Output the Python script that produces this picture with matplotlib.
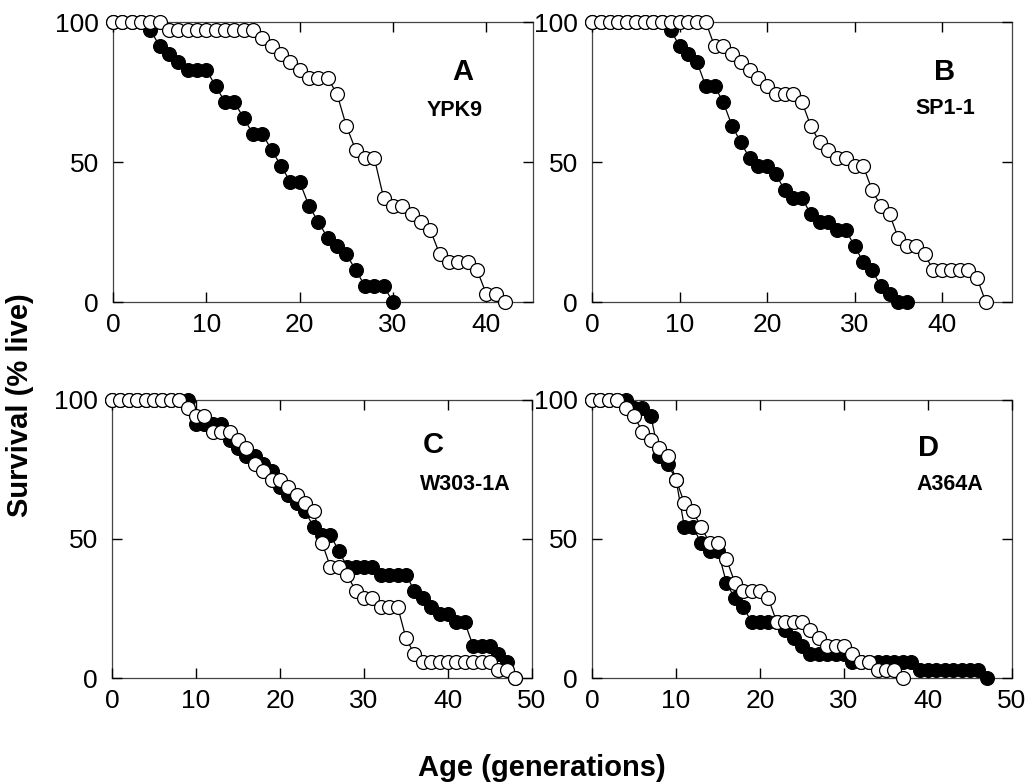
import numpy as np
import matplotlib
matplotlib.use("Agg")
import matplotlib.pyplot as plt

plt.rcParams['font.family'] = ['Liberation Sans', 'DejaVu Sans']

# ---------------- data ----------------
# Panel A (YPK9)
a_filled_x = list(range(0, 31))
a_filled_y = [100, 100, 100, 100, 97.1, 91.4, 88.6, 85.7, 82.9, 82.9, 82.9, 77.1, 71.4, 71.4,
              65.7, 60, 60, 54.3, 48.6, 42.9, 42.9, 34.3, 28.6, 22.9, 20, 17.1, 11.4, 5.7, 5.7, 5.7, 0]
a_open_x = list(range(0, 43))
a_open_y = [100, 100, 100, 100, 100, 100, 97.1, 97.1, 97.1, 97.1, 97.1, 97.1, 97.1, 97.1, 97.1, 97.1,
            94.3, 91.4, 88.6, 85.7, 82.9, 80, 80, 80, 74.3, 62.9, 54.3, 51.4, 51.4, 37.1, 34.3, 34.3,
            31.4, 28.6, 25.7, 17.1, 14.3, 14.3, 14.3, 11.4, 2.9, 2.9, 0]

# Panel B (SP1-1)
b_filled_x = list(range(0, 37))
b_filled_y = [100, 100, 100, 100, 100, 100, 100, 100, 100, 97.1, 91.4, 88.6, 85.7, 77.1, 77.1,
              71.4, 62.9, 57.1, 51.4, 48.6, 48.6, 45.7, 40, 37.1, 37.1, 31.4, 28.6, 28.6, 25.7,
              25.7, 20, 14.3, 11.4, 5.7, 2.9, 0, 0]
b_open_x = list(range(0, 46))
b_open_y = [100, 100, 100, 100, 100, 100, 100, 100, 100, 100, 100, 100, 100, 100, 91.4, 91.4,
            88.6, 85.7, 82.9, 80, 77.1, 74.3, 74.3, 74.3, 71.4, 62.9, 57.1, 54.3, 51.4, 51.4,
            48.6, 48.6, 40, 34.3, 31.4, 22.9, 20, 20, 17.1, 11.4, 11.4, 11.4, 11.4, 11.4, 8.6, 0]

# Panel C (W303-1A)
c_filled_x = list(range(0, 49))
c_filled_y = [100, 100, 100, 100, 100, 100, 100, 100, 100, 100, 91.4, 91.4, 91.4, 91.4, 85.7,
              82.9, 80, 80, 77.1, 74.3, 68.6, 65.7, 62.9, 60, 54.3, 51.4, 51.4, 45.7, 40, 40, 40,
              40, 37.1, 37.1, 37.1, 37.1, 31.4, 28.6, 25.7, 22.9, 22.9, 20, 20, 11.4, 11.4, 11.4,
              8.6, 5.7, 0]
c_open_x = list(range(0, 49))
c_open_y = [100, 100, 100, 100, 100, 100, 100, 100, 100, 97.1, 94.3, 94.3, 88.6, 88.6, 88.6,
            85.7, 82.9, 77.1, 74.3, 71.4, 71.4, 68.6, 65.7, 62.9, 60, 48.6, 40, 40, 37.1, 31.4,
            28.6, 28.6, 25.7, 25.7, 25.7, 14.3, 8.6, 5.7, 5.7, 5.7, 5.7, 5.7, 5.7, 5.7, 5.7, 5.7,
            2.9, 2.9, 0]

# Panel D (A364A)
d_filled_x = list(range(0, 48))
d_filled_y = [100, 100, 100, 100, 100, 97.1, 97.1, 94.3, 80, 77.1, 71.4, 54.3, 54.3, 48.6, 45.7,
              45.7, 34.3, 28.6, 25.7, 20, 20, 20, 20, 17.1, 14.3, 11.4, 8.6, 8.6, 8.6, 8.6, 8.6,
              5.7, 5.7, 5.7, 5.7, 5.7, 5.7, 5.7, 5.7, 2.9, 2.9, 2.9, 2.9, 2.9, 2.9, 2.9, 2.9, 0]
d_open_x = list(range(0, 38))
d_open_y = [100, 100, 100, 100, 97.1, 94.3, 88.6, 85.7, 82.9, 80, 71.4, 62.9, 60, 54.3, 48.6,
            48.6, 42.9, 34.3, 31.4, 31.4, 31.4, 28.6, 20, 20, 20, 20, 17.1, 14.3, 11.4, 11.4,
            11.4, 8.6, 5.7, 5.7, 2.9, 2.9, 2.9, 0]

panel_letters = ['A', 'B', 'C', 'D']
strain_names = ['YPK9', 'SP1-1', 'W303-1A', 'A364A']
x_limits = [45, 48, 50, 50]
x_ticks = [[0, 10, 20, 30, 40], [0, 10, 20, 30, 40], [0, 10, 20, 30, 40, 50], [0, 10, 20, 30, 40, 50]]
y_ticks = [0, 50, 100]

panels = [
    (a_filled_x, a_filled_y, a_open_x, a_open_y),
    (b_filled_x, b_filled_y, b_open_x, b_open_y),
    (c_filled_x, c_filled_y, c_open_x, c_open_y),
    (d_filled_x, d_filled_y, d_open_x, d_open_y),
]

# ---------------- figure ----------------
W, H = 1026, 783
fig = plt.figure(figsize=(W / 100, H / 100), dpi=100)

# axes rectangles in pixels: (left, top, right, bottom)
rects = [(113, 22, 533, 302), (592, 22, 1012, 302), (112, 400, 532, 678), (592, 400, 1012, 678)]
# label positions in pixels: letter (x,y), strain (x,y)
letter_pos = [(463, 72), (945, 72), (433, 445), (928, 448)]
strain_pos = [(455, 110), (945, 108), (465, 485), (950, 485)]

ms = 10
for i, (fx, fy, ox, oy) in enumerate(panels):
    l, t, r, b = rects[i]
    ax = fig.add_axes([l / W, 1 - b / H, (r - l) / W, (b - t) / H])
    ax.plot(fx, fy, '-', color='black', lw=0.9, zorder=2, clip_on=False)
    ax.plot(fx, fy, 'o', ms=ms, mfc='black', mec='black', mew=0.8, zorder=3, clip_on=False)
    ax.plot(ox, oy, '-', color='black', lw=0.9, zorder=4, clip_on=False)
    ax.plot(ox, oy, 'o', ms=ms, mfc='white', mec='black', mew=0.9, zorder=5, clip_on=False)
    ax.set_xlim(0, x_limits[i])
    ax.set_ylim(0, 100)
    ax.set_xticks(x_ticks[i])
    ax.set_yticks(y_ticks)
    ax.tick_params(direction='in', length=7, width=1.0, top=True, right=True,
                   labelsize=19, colors='black')
    ax.tick_params(axis='y', pad=10)
    ax.tick_params(axis='x', pad=8)
    for sp in ax.spines.values():
        sp.set_linewidth(0.9)
        sp.set_color('#444444')
        sp.set_zorder(1)
    lx, ly = letter_pos[i]
    sx, sy = strain_pos[i]
    fig.text(lx / W, 1 - ly / H, panel_letters[i], fontsize=21, fontweight='bold',
             ha='center', va='center')
    fig.text(sx / W, 1 - sy / H, strain_names[i], fontsize=15.5, fontweight='bold',
             ha='center', va='center')

fig.text(20 / W, 1 - 405 / H, 'Survival (% live)', rotation=90, fontsize=21,
         fontweight='bold', ha='center', va='center')
fig.text(542 / W, 1 - 768 / H, 'Age (generations)', fontsize=21,
         fontweight='bold', ha='center', va='center')

fig.savefig('out.png', dpi=100)
